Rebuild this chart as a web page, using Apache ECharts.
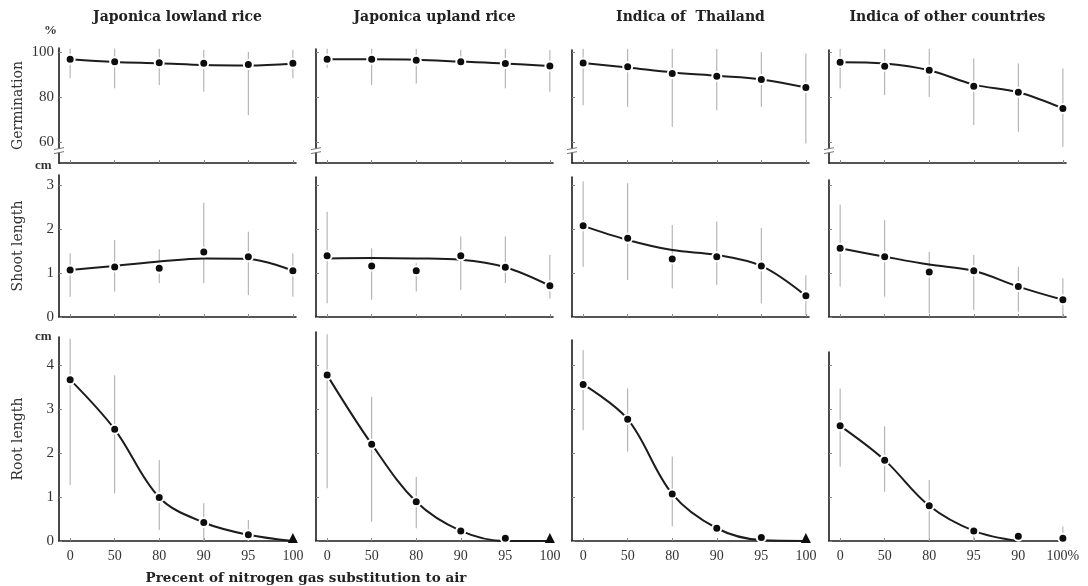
<!DOCTYPE html>
<html><head><meta charset="utf-8">
<script src="https://cdn.jsdelivr.net/npm/echarts@6/dist/echarts.min.js"></script>
<style>html,body{margin:0;padding:0;background:#fff}#c{width:1088px;height:586px}</style>
</head><body><div id="c"></div>
<script>
// ---------- DATA ----------
const varieties = ['Japonica lowland rice', 'Japonica upland rice', 'Indica of  Thailand', 'Indica of other countries'];
const xLabels = ['0', '50', '80', '90', '95', '100'];
const xLabelsLast = ['0', '50', '80', '95', '90', '100%'];
const xTitle = 'Precent of nitrogen gas substitution to air';

// Germination (%)
const germMean = [
  [96.8, 95.7, 95.2, 95.0, 94.5, 95.0],
  [96.8, 96.8, 96.4, 95.7, 95.0, 93.8],
  [95.2, 93.5, 90.5, 89.3, 87.9, 84.3],
  [95.6, 93.8, 92.0, 84.9, 82.2, 75.0]];
const germFit = [
  [96.8, 95.6, 95.0, 94.2, 94.0, 94.8],
  [96.8, 96.8, 96.6, 95.8, 95.0, 93.8],
  [95.2, 93.2, 91.0, 89.5, 87.9, 84.3],
  [95.6, 95.0, 92.0, 85.6, 82.2, 75.0]];
const germLow = [
  [88.4, 83.9, 85.3, 82.4, 72.0, 88.3],
  [93.0, 85.3, 86.0, 94.2, 83.9, 82.4],
  [76.4, 75.7, 66.8, 74.2, 75.7, 59.4],
  [83.9, 80.9, 80.1, 67.6, 64.6, 57.9]];
const germHigh = [
  [101.5, 101.5, 101.5, 100.9, 100.1, 101.0],
  [101.5, 101.5, 101.5, 100.9, 101.5, 100.9],
  [101.5, 101.5, 101.5, 101.5, 100.0, 99.4],
  [101.5, 101.5, 101.5, 97.2, 95.0, 92.8]];

// Shoot length (cm)
const shootMean = [
  [1.07, 1.14, 1.11, 1.48, 1.37, 1.05],
  [1.39, 1.16, 1.05, 1.39, 1.13, 0.71],
  [2.07, 1.79, 1.32, 1.37, 1.16, 0.48],
  [1.56, 1.37, 1.02, 1.05, 0.69, 0.39]];
const shootFit = [
  [1.07, 1.16, 1.26, 1.33, 1.32, 1.05],
  [1.33, 1.34, 1.33, 1.30, 1.13, 0.71],
  [2.07, 1.75, 1.52, 1.41, 1.16, 0.48],
  [1.56, 1.37, 1.19, 1.05, 0.69, 0.39]];
const shootLow = [
  [0.46, 0.58, 0.77, 0.77, 0.50, 0.46],
  [0.31, 0.39, 0.58, 0.61, 0.77, 0.42],
  [1.14, 0.84, 0.65, 0.73, 0.31, 0.05],
  [0.69, 0.46, 0.08, 0.16, 0.12, 0.00]];
const shootHigh = [
  [1.45, 1.75, 1.54, 2.60, 1.94, 1.45],
  [2.39, 1.56, 1.22, 1.83, 1.83, 1.41],
  [3.08, 3.04, 2.09, 2.17, 2.02, 0.95],
  [2.55, 2.20, 1.48, 1.41, 1.14, 0.88]];

// Root length (cm)
const rootMean = [
  [3.67, 2.54, 0.99, 0.42, 0.14, 0],
  [3.77, 2.20, 0.89, 0.23, 0.06, 0],
  [3.56, 2.77, 1.07, 0.29, 0.08, 0],
  [2.62, 1.84, 0.80, 0.23, 0.11, 0.06]];
const rootFit = [
  [3.67, 2.54, 0.99, 0.42, 0.14, 0],
  [3.77, 2.20, 0.89, 0.23, 0.00, 0],
  [3.56, 2.77, 1.07, 0.29, 0.02, 0],
  [2.62, 1.84, 0.80, 0.23, 0.00, null]];
const rootLow = [
  [1.27, 1.08, 0.25, 0.00, 0.00, null],
  [1.20, 0.44, 0.29, null, null, null],
  [2.52, 2.03, 0.33, null, null, null],
  [1.69, 1.12, 0.00, 0.00, null, 0.00]];
const rootHigh = [
  [4.60, 3.77, 1.84, 0.86, 0.48, null],
  [4.70, 3.28, 1.46, null, null, null],
  [4.34, 3.47, 1.92, null, null, null],
  [3.47, 2.61, 1.39, 0.23, null, 0.33]];
// last root point of first three panels drawn as a triangle (no growth)
const rootTriangle = [true, true, true, false];

// ---------- LAYOUT ----------
const colLeft = [59, 316, 572, 829];
const colWidth = 237;
const rowsCfg = [
  { mean: germMean, fit: germFit, lo: germLow, hi: germHigh, top: [48, 49, 50, 50], bottom: 163,
    min: 50.7, max: [101.8, 101.4, 101.0, 101.0], ticks: [60, 80, 100], name: 'Germination', unit: '%', unitX: 44, unitY: 32 },
  { mean: shootMean, fit: shootFit, lo: shootLow, hi: shootHigh, top: [175, 177, 177, 180], bottom: 317,
    min: 0, max: [3.23, 3.18, 3.18, 3.11], ticks: [0, 1, 2, 3], name: 'Shoot length', unit: 'cm', unitX: 35, unitY: 167 },
  { mean: rootMean, fit: rootFit, lo: rootLow, hi: rootHigh, top: [337, 332, 340, 352], bottom: 541,
    min: 0, max: [4.64, 4.75, 4.57, 4.30], ticks: [0, 1, 2, 3, 4], name: 'Root length', unit: 'cm', unitX: 35, unitY: 338 }
];

const INK = '#1c1c1c';
const SERIF = '"Liberation Serif", "DejaVu Serif", serif';
const WIDE_SERIF = '"DejaVu Serif", "Liberation Serif", serif';

const grid = [], xAxis = [], yAxis = [], series = [], graphic = [];
let k = 0;
rowsCfg.forEach((r, ri) => {
  for (let c = 0; c < 4; c++) {
    grid.push({ left: colLeft[c], top: r.top[c], width: colWidth, height: r.bottom - r.top[c] });
    const labels = c === 3 ? xLabelsLast : xLabels;
    xAxis.push({
      gridIndex: k, type: 'value', min: -0.25, max: 5.07,
      axisLine: { show: true, onZero: false, lineStyle: { color: INK, width: 1.6 } },
      axisTick: { show: true, inside: true, length: 3, customValues: [0, 1, 2, 3, 4, 5], lineStyle: { color: '#888', width: 1 } },
      axisLabel: { show: ri === 2, customValues: [0, 1, 2, 3, 4, 5], formatter: v => labels[Math.round(v)],
        fontFamily: SERIF, fontSize: 14, color: '#333', margin: 8 },
      splitLine: { show: false }
    });
    yAxis.push({
      gridIndex: k, type: 'value', min: r.min, max: r.max[c],
      name: c === 0 ? r.name : '', nameLocation: 'middle', nameGap: 34,
      nameTextStyle: { fontFamily: WIDE_SERIF, fontSize: 14, color: '#333' },
      axisLine: { show: true, onZero: false, lineStyle: { color: INK, width: 1.6 } },
      axisTick: { show: true, inside: true, length: 3, customValues: r.ticks, lineStyle: { color: '#888', width: 1 } },
      axisLabel: { show: c === 0, customValues: r.ticks, fontFamily: SERIF, fontSize: 15, color: '#333', margin: 5 },
      splitLine: { show: false }
    });
    // error bars
    const ebData = [];
    for (let i = 0; i < 6; i++) {
      if (r.lo[c][i] != null && r.hi[c][i] != null) ebData.push([i, r.lo[c][i], r.hi[c][i]]);
    }
    series.push({
      type: 'custom', xAxisIndex: k, yAxisIndex: k, z: 1, silent: true,
      encode: { x: 0, y: [1, 2] }, data: ebData,
      renderItem: (params, api) => {
        const p1 = api.coord([api.value(0), api.value(1)]);
        const p2 = api.coord([api.value(0), api.value(2)]);
        return { type: 'line', shape: { x1: p1[0], y1: p1[1], x2: p2[0], y2: p2[1] },
          style: { stroke: '#a8a8a8', lineWidth: 1 } };
      }
    });
    // fitted curve
    series.push({
      type: 'line', xAxisIndex: k, yAxisIndex: k, z: 2, smooth: 0.35, showSymbol: false, silent: true,
      data: r.fit[c].map((v, i) => [i, v]),
      lineStyle: { color: INK, width: 2 }
    });
    // observed means
    series.push({
      type: 'scatter', xAxisIndex: k, yAxisIndex: k, z: 3, silent: true,
      data: r.mean[c].map((v, i) => {
        if (ri === 2 && i === 5 && rootTriangle[c]) {
          return { value: [i, v], symbol: 'triangle', symbolSize: 10, symbolOffset: [0, -3], itemStyle: { borderWidth: 0 } };
        }
        return [i, v];
      }),
      symbol: 'circle', symbolSize: 9,
      itemStyle: { color: '#0d0d0d', borderColor: '#fff', borderWidth: 2, opacity: 1 }
    });
    // axis break marks on germination axes
    if (ri === 0) {
      series.push({
        type: 'custom', xAxisIndex: k, yAxisIndex: k, z: 4, silent: true,
        data: [[-0.25, 56.2]],
        renderItem: (params, api) => {
          const p = api.coord([api.value(0), api.value(1)]);
          return { type: 'group', children: [
            { type: 'rect', shape: { x: p[0] - 2, y: p[1] - 2, width: 4, height: 4 }, style: { fill: '#fff' } },
            { type: 'line', shape: { x1: p[0] - 5, y1: p[1] - 1, x2: p[0] + 5, y2: p[1] - 3 }, style: { stroke: '#777', lineWidth: 1 } },
            { type: 'line', shape: { x1: p[0] - 5, y1: p[1] + 3, x2: p[0] + 5, y2: p[1] + 1 }, style: { stroke: '#777', lineWidth: 1 } }
          ] };
        }
      });
    }
    k++;
  }
  graphic.push({ type: 'text', left: r.unitX, top: r.unitY - 8,
    style: { text: r.unit, font: 'bold 13px ' + SERIF, fill: '#333' } });
});

varieties.forEach((v, c) => {
  graphic.push({ type: 'text', x: colLeft[c] + colWidth / 2, y: 17,
    style: { text: v, font: 'bold 14px ' + WIDE_SERIF, fill: '#222', textAlign: 'center', textVerticalAlign: 'middle' } });
});
graphic.push({ type: 'text', x: 306, y: 578,
  style: { text: xTitle, font: 'bold 13.5px ' + WIDE_SERIF, fill: '#222', textAlign: 'center', textVerticalAlign: 'middle' } });

const chart = echarts.init(document.getElementById('c'), null, { renderer: 'canvas' });
chart.setOption({ animation: false, backgroundColor: '#fff', grid, xAxis, yAxis, series, graphic });
</script>
</body></html>
